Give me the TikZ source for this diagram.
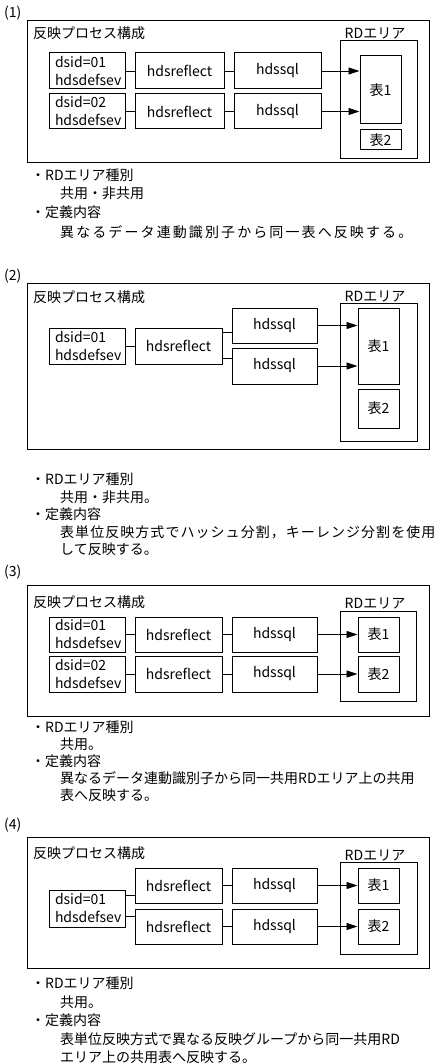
\documentclass[tikz,border=0pt]{standalone}
\usepackage{fontspec}
\setmainfont{Noto Sans CJK JP}
\usepackage{tikz}
\usetikzlibrary{calc}
\usetikzlibrary{positioning}
\usetikzlibrary{arrows.meta}

\tikzset{
  every node/.style={font=\fontsize{14}{18}\selectfont},
  frm/.style={line width=1pt},
  prc/.style={draw, line width=1pt, inner sep=0pt, align=center},
  tbl/.style={draw, line width=1pt, inner sep=0pt, minimum width=41pt},
  dsid/.style={draw, line width=1pt, inner xsep=6pt, inner ysep=0pt, align=left, text width=64pt},
  txt/.style={anchor=west, inner sep=0pt},
  lnk/.style={line width=0.9pt},
  arr/.style={line width=0.9pt, -{Triangle[length=11pt,width=7pt]}},
}

\begin{document}
\begin{tikzpicture}[x=1pt,y=1pt,yscale=-1,xscale=1]
        \useasboundingbox (0,0) rectangle (435,1064);

        %%%%%%%%%%%%%%%%%%%%%%%% (1)
        % Text Node
        \node [txt] (numA) at (4,13) {(1)};
        %Shape: Rectangle
        \draw [frm] (27,21) rectangle (429,163);
        % Text Node
        \node [txt] (ttlA) at (33,33) {反映プロセス構成};
        \node [inner sep=0pt] (rdlA) at (375,33) {RDエリア};
        %Shape: Rectangle
        \draw [frm] (340,41) rectangle (417,159);
        % boxes
        \node [dsid, minimum height=36pt] (dsidA) at (87,71) {dsid=01\\hdsdefsev};
        \node [dsid, minimum height=35pt] (dsidB) at (87,111.5) {dsid=02\\hdsdefsev};
        \node [prc, minimum width=89pt, minimum height=36pt] (refA) at (179.5,71) {hdsreflect};
        \node [prc, minimum width=89pt, minimum height=35pt] (refB) at (179.5,111.5) {hdsreflect};
        \node [prc, minimum width=87pt, minimum height=36pt] (sqlA) at (277.5,71) {hdssql};
        \node [prc, minimum width=87pt, minimum height=35pt] (sqlB) at (277.5,111.5) {hdssql};
        \node [tbl, minimum height=68pt] (tblA) at (380.5,90) {表1};
        \node [tbl, minimum height=20pt] (tblB) at (380.5,140) {表2};
        %Straight Lines
        \draw [lnk] (dsidA) -- (refA);
        \draw [lnk] (refA) -- (sqlA);
        \draw [lnk] (dsidB) -- (refB);
        \draw [lnk] (refB) -- (sqlB);
        \draw [arr] (sqlA.east) -- (sqlA.east -| tblA.west);
        \draw [arr] (sqlB.east) -- (sqlB.east -| tblA.west);
        % Text Node
        \node [txt] (kndA) at (31,175) {・RDエリア種別};
        \node [txt] (kndAx) at (60,193) {共用・非共用};
        \node [txt] (defA) at (31,212) {・定義内容};
        \node [txt] (defAx) at (60,232) {\addfontfeature{LetterSpace=15}異なるデータ連動識別子から同一表へ反映する。};

        %%%%%%%%%%%%%%%%%%%%%%%% (2)
        % Text Node
        \node [txt] (numB) at (4,276) {(2)};
        %Shape: Rectangle
        \draw [frm] (27,284) rectangle (429,449);
        % Text Node
        \node [txt] (ttlB) at (33,297) {反映プロセス構成};
        \node [inner sep=0pt] (rdlB) at (375,296) {RDエリア};
        %Shape: Rectangle
        \draw [frm] (340,303) rectangle (417,441);
        % boxes
        \node [dsid, minimum height=36pt] (dsidC) at (87,346) {dsid=01\\hdsdefsev};
        \node [prc, minimum width=87pt, minimum height=36pt] (refC) at (178.5,346) {hdsreflect};
        \node [prc, minimum width=85pt, minimum height=35pt] (sqlC) at (274.5,325.5) {hdssql};
        \node [prc, minimum width=85pt, minimum height=36pt] (sqlD) at (274.5,366) {hdssql};
        \node [tbl, minimum height=76pt] (tblC) at (378.5,346) {表1};
        \node [tbl, minimum height=39pt] (tblD) at (378.5,408.5) {表2};
        %Straight Lines
        \coordinate (splC) at ($(refC.north east)+(0,5)$);
        \coordinate (splD) at ($(refC.south east)+(0,-6)$);
        \draw [lnk] (dsidC) -- (refC);
        \draw [lnk] (splC) -- (splC -| sqlC.west);
        \draw [lnk] (splD) -- (splD -| sqlD.west);
        \draw [arr] (sqlC.east) -- (sqlC.east -| tblC.west);
        \draw [arr] (sqlD.east) -- (sqlD.east -| tblC.west);
        % Text Node
        \node [txt] (kndB) at (31,479) {・RDエリア種別};
        \node [txt] (kndBx) at (60,497) {共用・非共用。};
        \node [txt] (defB) at (31,514) {・定義内容};
        \node [txt] (defBx) at (60,532) {\addfontfeature{LetterSpace=7.5}表単位反映方式でハッシュ分割，キーレンジ分割を使用};
        \node [txt] (defBy) at (60,549) {して反映する。};

        %%%%%%%%%%%%%%%%%%%%%%%% (3)
        % Text Node
        \node [txt] (numC) at (4,572) {(3)};
        %Shape: Rectangle
        \draw [frm] (27,585) rectangle (429,716);
        % Text Node
        \node [txt] (ttlC) at (33,602) {反映プロセス構成};
        \node [inner sep=0pt] (rdlC) at (375,603) {RDエリア};
        %Shape: Rectangle
        \draw [frm] (340,611) rectangle (416,701);
        % boxes
        \node [dsid, minimum height=35pt] (dsidE) at (87,634.5) {dsid=01\\hdsdefsev};
        \node [dsid, minimum height=36pt] (dsidF) at (87,674) {dsid=02\\hdsdefsev};
        \node [prc, minimum width=87pt, minimum height=35pt] (refE) at (178.5,634.5) {hdsreflect};
        \node [prc, minimum width=87pt, minimum height=36pt] (refF) at (178.5,674) {hdsreflect};
        \node [prc, minimum width=85pt, minimum height=35pt] (sqlE) at (274.5,634.5) {hdssql};
        \node [prc, minimum width=85pt, minimum height=36pt] (sqlF) at (274.5,674) {hdssql};
        \node [tbl, minimum height=35pt] (tblE) at (378.5,634.5) {表1};
        \node [tbl, minimum height=36pt] (tblF) at (378.5,674) {表2};
        %Straight Lines
        \draw [lnk] (dsidE) -- (refE);
        \draw [lnk] (refE) -- (sqlE);
        \draw [lnk] (dsidF) -- (refF);
        \draw [lnk] (refF) -- (sqlF);
        \draw [arr] (sqlE) -- (tblE);
        \draw [arr] (sqlF) -- (tblF);
        % Text Node
        \node [txt] (kndC) at (31,727) {・RDエリア種別};
        \node [txt] (kndCx) at (60,744) {共用。};
        \node [txt] (defC) at (31,761) {・定義内容};
        \node [txt] (defCx) at (60,778) {異なるデータ連動識別子から同一共用RDエリア上の共用};
        \node [txt] (defCy) at (60,795) {表へ反映する。};

        %%%%%%%%%%%%%%%%%%%%%%%% (4)
        % Text Node
        \node [txt] (numD) at (4,825) {(4)};
        %Shape: Rectangle
        \draw [frm] (27,837) rectangle (429,968);
        % Text Node
        \node [txt] (ttlD) at (33,853) {反映プロセス構成};
        \node [inner sep=0pt] (rdlD) at (375,855) {RDエリア};
        %Shape: Rectangle
        \draw [frm] (340,862) rectangle (417,954);
        % boxes
        \node [dsid, minimum height=37pt] (dsidG) at (87,908.5) {dsid=01\\hdsdefsev};
        \node [prc, minimum width=87pt, minimum height=35pt] (refG) at (178.5,885.5) {hdsreflect};
        \node [prc, minimum width=87pt, minimum height=35pt] (refH) at (178.5,926.5) {hdsreflect};
        \node [prc, minimum width=85pt, minimum height=35pt] (sqlG) at (274.5,885.5) {hdssql};
        \node [prc, minimum width=85pt, minimum height=35pt] (sqlH) at (274.5,926.5) {hdssql};
        \node [tbl, minimum height=35pt] (tblG) at (378.5,885.5) {表1};
        \node [tbl, minimum height=35pt] (tblH) at (378.5,926.5) {表2};
        %Straight Lines
        \coordinate (splG) at ($(dsidG.north east)+(0,6)$);
        \coordinate (splH) at ($(dsidG.south east)+(0,-11)$);
        \draw [lnk] (splG) -- (splG -| refG.west);
        \draw [lnk] (splH) -- (splH -| refH.west);
        \draw [lnk] (refG) -- (sqlG);
        \draw [lnk] (refH) -- (sqlH);
        \draw [arr] (sqlG) -- (tblG);
        \draw [arr] (sqlH) -- (tblH);
        % Text Node
        \node [txt] (kndD) at (31,983) {・RDエリア種別};
        \node [txt] (kndDx) at (60,1002) {共用。};
        \node [txt] (defD) at (31,1020) {・定義内容};
        \node [txt] (defDx) at (60,1039) {表単位反映方式で異なる反映グループから同一共用RD};
        \node [txt] (defDy) at (60,1057) {エリア上の共用表へ反映する。};

    \end{tikzpicture}
\end{document}
